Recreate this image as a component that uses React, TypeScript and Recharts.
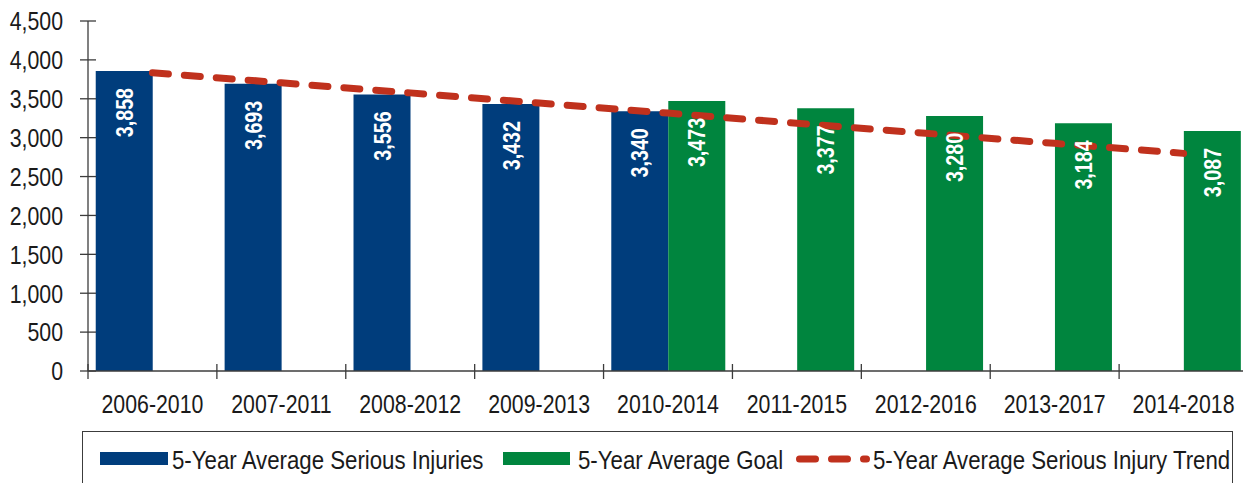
import React from 'react';
import { ComposedChart, Bar, Line, XAxis, YAxis, LabelList } from 'recharts';

const categories = ['2006-2010', '2007-2011', '2008-2012', '2009-2013', '2010-2014', '2011-2015', '2012-2016', '2013-2017', '2014-2018'];
const seriousInjuries: (number | null)[] = [3858, 3693, 3556, 3432, 3340, null, null, null, null];
const averageGoal: (number | null)[] = [null, null, null, null, 3473, 3377, 3280, 3184, 3087];
const injuryTrend = [3835, 3706, 3576, 3446, 3316, 3186, 3057, 2927, 2798];
const yTicks = [0, 500, 1000, 1500, 2000, 2500, 3000, 3500, 4000, 4500];
const seriesNames = ['5-Year Average Serious Injuries', '5-Year Average Goal', '5-Year Average Serious Injury Trend'];

const BLUE = '#003d7c';
const GREEN = '#00853e';
const RED = '#c0311d';
const AXIS = '#3c3c3c';
const TEXT = '#1a1a1a';
const FONT = "'Liberation Sans', Arial, sans-serif";
const NARROW = 0.82;

const CHART_W = 1260;
const CHART_H = 483;
const MARGIN = { top: 21, right: 12, bottom: 0, left: 0 };
const Y_W = 88;
const X_H = 112;
const BAND = (CHART_W - MARGIN.left - MARGIN.right - Y_W) / categories.length;

const data = categories.map((c, i) => ({
  category: c,
  injuries: seriousInjuries[i],
  goal: averageGoal[i],
  trend: injuryTrend[i],
}));

const fmt = (v: number) => v.toLocaleString('en-US');

const YTick = (props: any) => {
  const { x, y, payload } = props;
  return (
    <g>
      <line x1={x + 17} x2={x + 33} y1={y} y2={y} stroke={AXIS} strokeWidth={1.3} />
      <g transform={`translate(${x},${y}) scale(${NARROW},1)`}>
        <text x={0} y={0} dy="0.36em" textAnchor="end" fill={TEXT} fontSize={26} fontFamily={FONT}>
          {fmt(payload.value)}
        </text>
      </g>
    </g>
  );
};

const XTick = (props: any) => {
  const { x, y, payload, index } = props;
  return (
    <g>
      <line x1={x - BAND / 2} x2={x - BAND / 2} y1={y - 7} y2={y + 8} stroke={AXIS} strokeWidth={1.3} />
      {index === categories.length - 1 && (
        <line x1={x + BAND / 2} x2={x + BAND / 2} y1={y - 7} y2={y + 8} stroke={AXIS} strokeWidth={1.3} />
      )}
      <g transform={`translate(${x},${y + 42}) scale(${NARROW},1)`}>
        <text x={0} y={0} textAnchor="middle" fill={TEXT} fontSize={26} fontFamily={FONT}>
          {payload.value}
        </text>
      </g>
    </g>
  );
};

const BarLabel = (props: any) => {
  const vb = props.viewBox || props;
  const value = props.value;
  if (value === null || value === undefined || value === '') return null;
  const x = Number(vb.x ?? props.x);
  const y = Number(vb.y ?? props.y);
  const w = Number(vb.width ?? props.width);
  const cx = x + w / 2;
  const top = y + 17;
  return (
    <text
      transform={`translate(${cx},${top}) rotate(-90) scale(${NARROW},1)`}
      textAnchor="end"
      dy="0.36em"
      fill="#ffffff"
      fontWeight="bold"
      fontSize={24}
      fontFamily={FONT}
    >
      {fmt(Number(value))}
    </text>
  );
};

const legendText = (left: number, label: string): React.ReactNode => (
  <span
    style={{
      position: 'absolute',
      left,
      top: 459 - 431,
      transform: 'translateY(-50%) scaleX(0.855)',
      transformOrigin: 'left center',
      whiteSpace: 'nowrap',
      lineHeight: '30px',
    }}
  >
    {label}
  </span>
);

const LegendBox = () => {
  const ox = 82;
  const oy = 431;
  return (
    <div
      style={{
        position: 'absolute',
        left: ox,
        top: oy,
        width: 1151,
        height: 80,
        border: `1.3px solid ${AXIS}`,
        boxSizing: 'border-box',
        fontFamily: FONT,
        fontSize: 26,
        color: TEXT,
      }}
    >
      <div style={{ position: 'absolute', left: 100 - ox - 1, top: 452 - oy - 1, width: 68, height: 13, background: BLUE }} />
      {legendText(172 - ox - 1, seriesNames[0])}
      <div style={{ position: 'absolute', left: 503 - ox - 1, top: 452 - oy - 1, width: 67, height: 13, background: GREEN }} />
      {legendText(578 - ox - 1, seriesNames[1])}
      <svg width={74} height={14} style={{ position: 'absolute', left: 796 - ox - 1, top: 452 - oy - 1 }}>
        <line x1={3.5} x2={70.5} y1={7} y2={7} stroke={RED} strokeWidth={7} strokeLinecap="round" strokeDasharray="16 16" />
      </svg>
      {legendText(873 - ox - 1, seriesNames[2])}
    </div>
  );
};

export default function App() {
  return (
    <div style={{ position: 'absolute', left: 0, top: 0, width: 1243, height: 483, overflow: 'hidden', background: '#ffffff' }}>
      <ComposedChart
        width={CHART_W}
        height={CHART_H}
        data={data}
        margin={MARGIN}
        barCategoryGap="6%"
        barGap={0}
      >
        <XAxis
          dataKey="category"
          height={X_H}
          tickSize={0}
          tickMargin={0}
          tickLine={false}
          axisLine={{ stroke: AXIS, strokeWidth: 1.3 }}
          tick={<XTick />}
          interval={0}
        />
        <YAxis
          width={Y_W}
          domain={[0, 4500]}
          ticks={yTicks}
          tickSize={8}
          tickMargin={17}
          tickLine={false}
          axisLine={{ stroke: AXIS, strokeWidth: 1.3 }}
          tick={<YTick />}
          interval={0}
        />
        <Bar dataKey="injuries" name={seriesNames[0]} fill={BLUE} isAnimationActive={false}>
          <LabelList dataKey="injuries" content={<BarLabel />} />
        </Bar>
        <Bar dataKey="goal" name={seriesNames[1]} fill={GREEN} isAnimationActive={false}>
          <LabelList dataKey="goal" content={<BarLabel />} />
        </Bar>
        <Line
          dataKey="trend"
          name={seriesNames[2]}
          stroke={RED}
          strokeWidth={7}
          strokeLinecap="round"
          strokeDasharray="16 16"
          dot={false}
          activeDot={false}
          type="linear"
          isAnimationActive={false}
        />
      </ComposedChart>
      <LegendBox />
    </div>
  );
}
